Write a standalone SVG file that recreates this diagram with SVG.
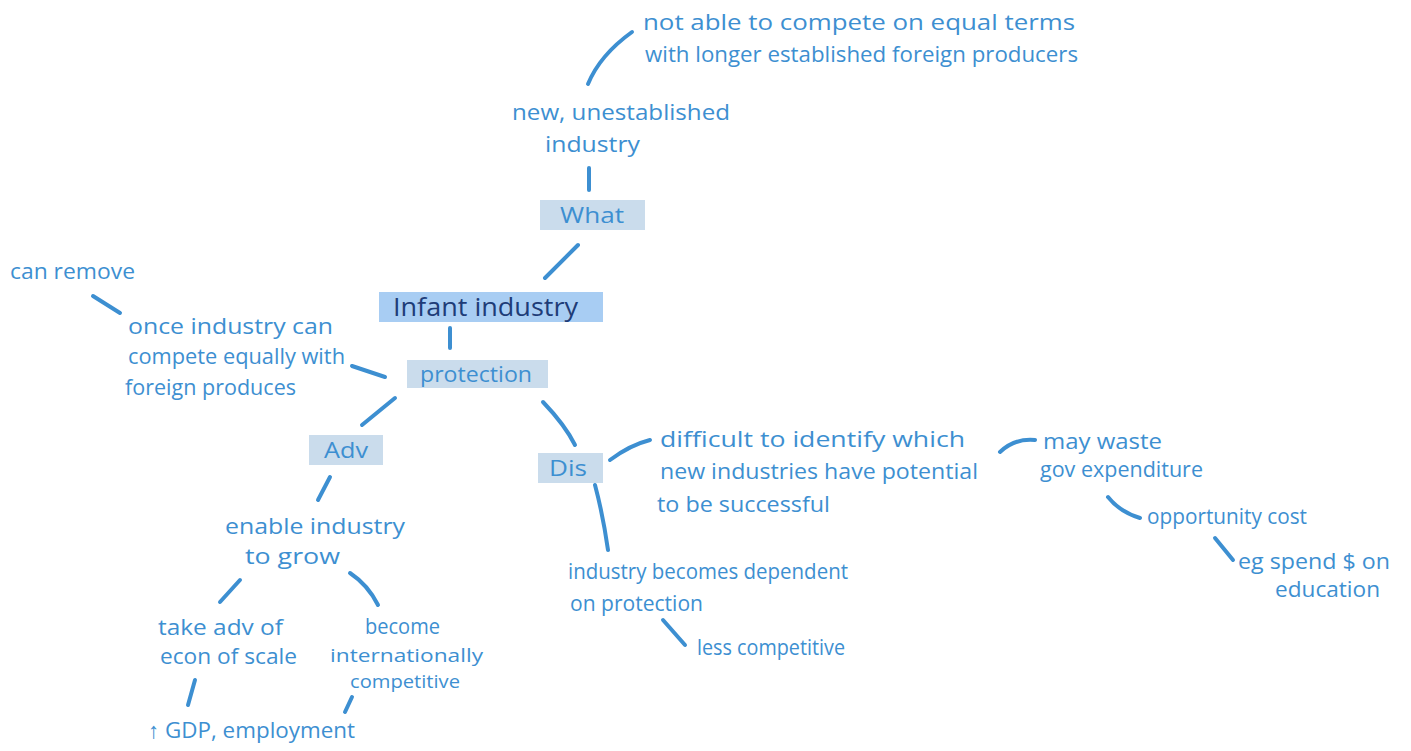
<svg xmlns="http://www.w3.org/2000/svg" width="1411" height="751" viewBox="0 0 1411 751">
<style>
  .t { font-family: "Open Sans", "Liberation Sans", sans-serif; font-size: 22px; fill: #3d8fd1; }
  .s { font-size: 19px; }
  .hd { font-family: "Open Sans", "Liberation Sans", sans-serif; font-size: 25px; fill: #1e3c78; }
  .box { fill: #cadcec; }
  .main { fill: #a8cdf3; }
  .ln { fill: none; stroke: #3d8fd1; stroke-width: 4; stroke-linecap: round; }
</style>
<rect width="1411" height="751" fill="#ffffff"/>
<g id="connectors">
  <path class="ln" d="M588,84 Q600,55 632,32"/>
  <path class="ln" d="M589,168 L589,190"/>
  <path class="ln" d="M545,278 L578,245"/>
  <path class="ln" d="M450,328 L450,348"/>
  <path class="ln" d="M93,296 L120,313"/>
  <path class="ln" d="M352,366 L385,377"/>
  <path class="ln" d="M362,425 L395,398"/>
  <path class="ln" d="M543,402 Q565,425 575,445"/>
  <path class="ln" d="M318,500 L330,477"/>
  <path class="ln" d="M220,602 L240,580"/>
  <path class="ln" d="M350,573 Q368,585 378,605"/>
  <path class="ln" d="M188,705 L195,680"/>
  <path class="ln" d="M345,712 L352,697"/>
  <path class="ln" d="M610,460 Q630,445 650,440"/>
  <path class="ln" d="M595,485 Q603,515 608,550"/>
  <path class="ln" d="M663,620 L685,645"/>
  <path class="ln" d="M1000,452 Q1015,438 1035,440"/>
  <path class="ln" d="M1108,497 Q1120,512 1140,518"/>
  <path class="ln" d="M1215,538 L1233,560"/>
</g>
<g id="n-notable">
  <text class="t" x="643" y="30" textLength="432" lengthAdjust="spacingAndGlyphs">not able to compete on equal terms</text>
  <text class="t" x="645" y="62" textLength="433" lengthAdjust="spacingAndGlyphs">with longer established foreign producers</text>
</g>
<g id="n-new">
  <text class="t" x="512" y="120" textLength="218" lengthAdjust="spacingAndGlyphs">new, unestablished</text>
  <text class="t" x="545" y="152" textLength="95" lengthAdjust="spacingAndGlyphs">industry</text>
</g>
<g id="n-what">
  <rect class="box" x="540" y="200" width="105" height="30"/>
  <text class="t" x="592" y="223" text-anchor="middle" textLength="64" lengthAdjust="spacingAndGlyphs">What</text>
</g>
<g id="n-infant">
  <rect class="main" x="379" y="292" width="224" height="30"/>
  <text class="hd" x="393" y="316" textLength="185" lengthAdjust="spacingAndGlyphs">Infant industry</text>
</g>
<g id="n-protection">
  <rect class="box" x="407" y="360" width="141" height="28"/>
  <text class="t" x="420" y="382" textLength="112" lengthAdjust="spacingAndGlyphs">protection</text>
</g>
<g id="n-canremove">
  <text class="t" x="10" y="279" textLength="125" lengthAdjust="spacingAndGlyphs">can remove</text>
</g>
<g id="n-once">
  <text class="t" x="128" y="334" textLength="205" lengthAdjust="spacingAndGlyphs">once industry can</text>
  <text class="t" x="128" y="364" textLength="217" lengthAdjust="spacingAndGlyphs">compete equally with</text>
  <text class="t" x="125" y="395" textLength="171" lengthAdjust="spacingAndGlyphs">foreign produces</text>
</g>
<g id="n-adv">
  <rect class="box" x="309" y="435" width="74" height="30"/>
  <text class="t" x="346" y="458" text-anchor="middle" textLength="44" lengthAdjust="spacingAndGlyphs">Adv</text>
</g>
<g id="n-dis">
  <rect class="box" x="538" y="453" width="65" height="30"/>
  <text class="t" x="568" y="476" text-anchor="middle" textLength="38" lengthAdjust="spacingAndGlyphs">Dis</text>
</g>
<g id="n-enable">
  <text class="t" x="225" y="534" textLength="180" lengthAdjust="spacingAndGlyphs">enable industry</text>
  <text class="t" x="245" y="564" textLength="95" lengthAdjust="spacingAndGlyphs">to grow</text>
</g>
<g id="n-take">
  <text class="t" x="158" y="635" textLength="125" lengthAdjust="spacingAndGlyphs">take adv of</text>
  <text class="t" x="160" y="664" textLength="137" lengthAdjust="spacingAndGlyphs">econ of scale</text>
</g>
<g id="n-become">
  <text class="t" x="365" y="634" textLength="75" lengthAdjust="spacingAndGlyphs">become</text>
  <text class="t s" x="330" y="662" textLength="153" lengthAdjust="spacingAndGlyphs">internationally</text>
  <text class="t s" x="350" y="688" textLength="110" lengthAdjust="spacingAndGlyphs">competitive</text>
</g>
<g id="n-gdp">
  <text class="t" x="148" y="738" textLength="207" lengthAdjust="spacingAndGlyphs">↑ GDP, employment</text>
</g>
<g id="n-difficult">
  <text class="t" x="660" y="447" textLength="305" lengthAdjust="spacingAndGlyphs">difficult to identify which</text>
  <text class="t" x="660" y="479" textLength="318" lengthAdjust="spacingAndGlyphs">new industries have potential</text>
  <text class="t" x="657" y="512" textLength="173" lengthAdjust="spacingAndGlyphs">to be successful</text>
</g>
<g id="n-dependent">
  <text class="t" x="568" y="579" textLength="280" lengthAdjust="spacingAndGlyphs">industry becomes dependent</text>
  <text class="t" x="570" y="611" textLength="133" lengthAdjust="spacingAndGlyphs">on protection</text>
</g>
<g id="n-less">
  <text class="t" x="697" y="655" textLength="148" lengthAdjust="spacingAndGlyphs">less competitive</text>
</g>
<g id="n-waste">
  <text class="t" x="1043" y="449" textLength="119" lengthAdjust="spacingAndGlyphs">may waste</text>
  <text class="t" x="1040" y="477" textLength="163" lengthAdjust="spacingAndGlyphs">gov expenditure</text>
</g>
<g id="n-opp">
  <text class="t" x="1147" y="524" textLength="160" lengthAdjust="spacingAndGlyphs">opportunity cost</text>
</g>
<g id="n-eg">
  <text class="t" x="1238" y="569" textLength="152" lengthAdjust="spacingAndGlyphs">eg spend $ on</text>
  <text class="t" x="1275" y="597" textLength="105" lengthAdjust="spacingAndGlyphs">education</text>
</g>
</svg>
